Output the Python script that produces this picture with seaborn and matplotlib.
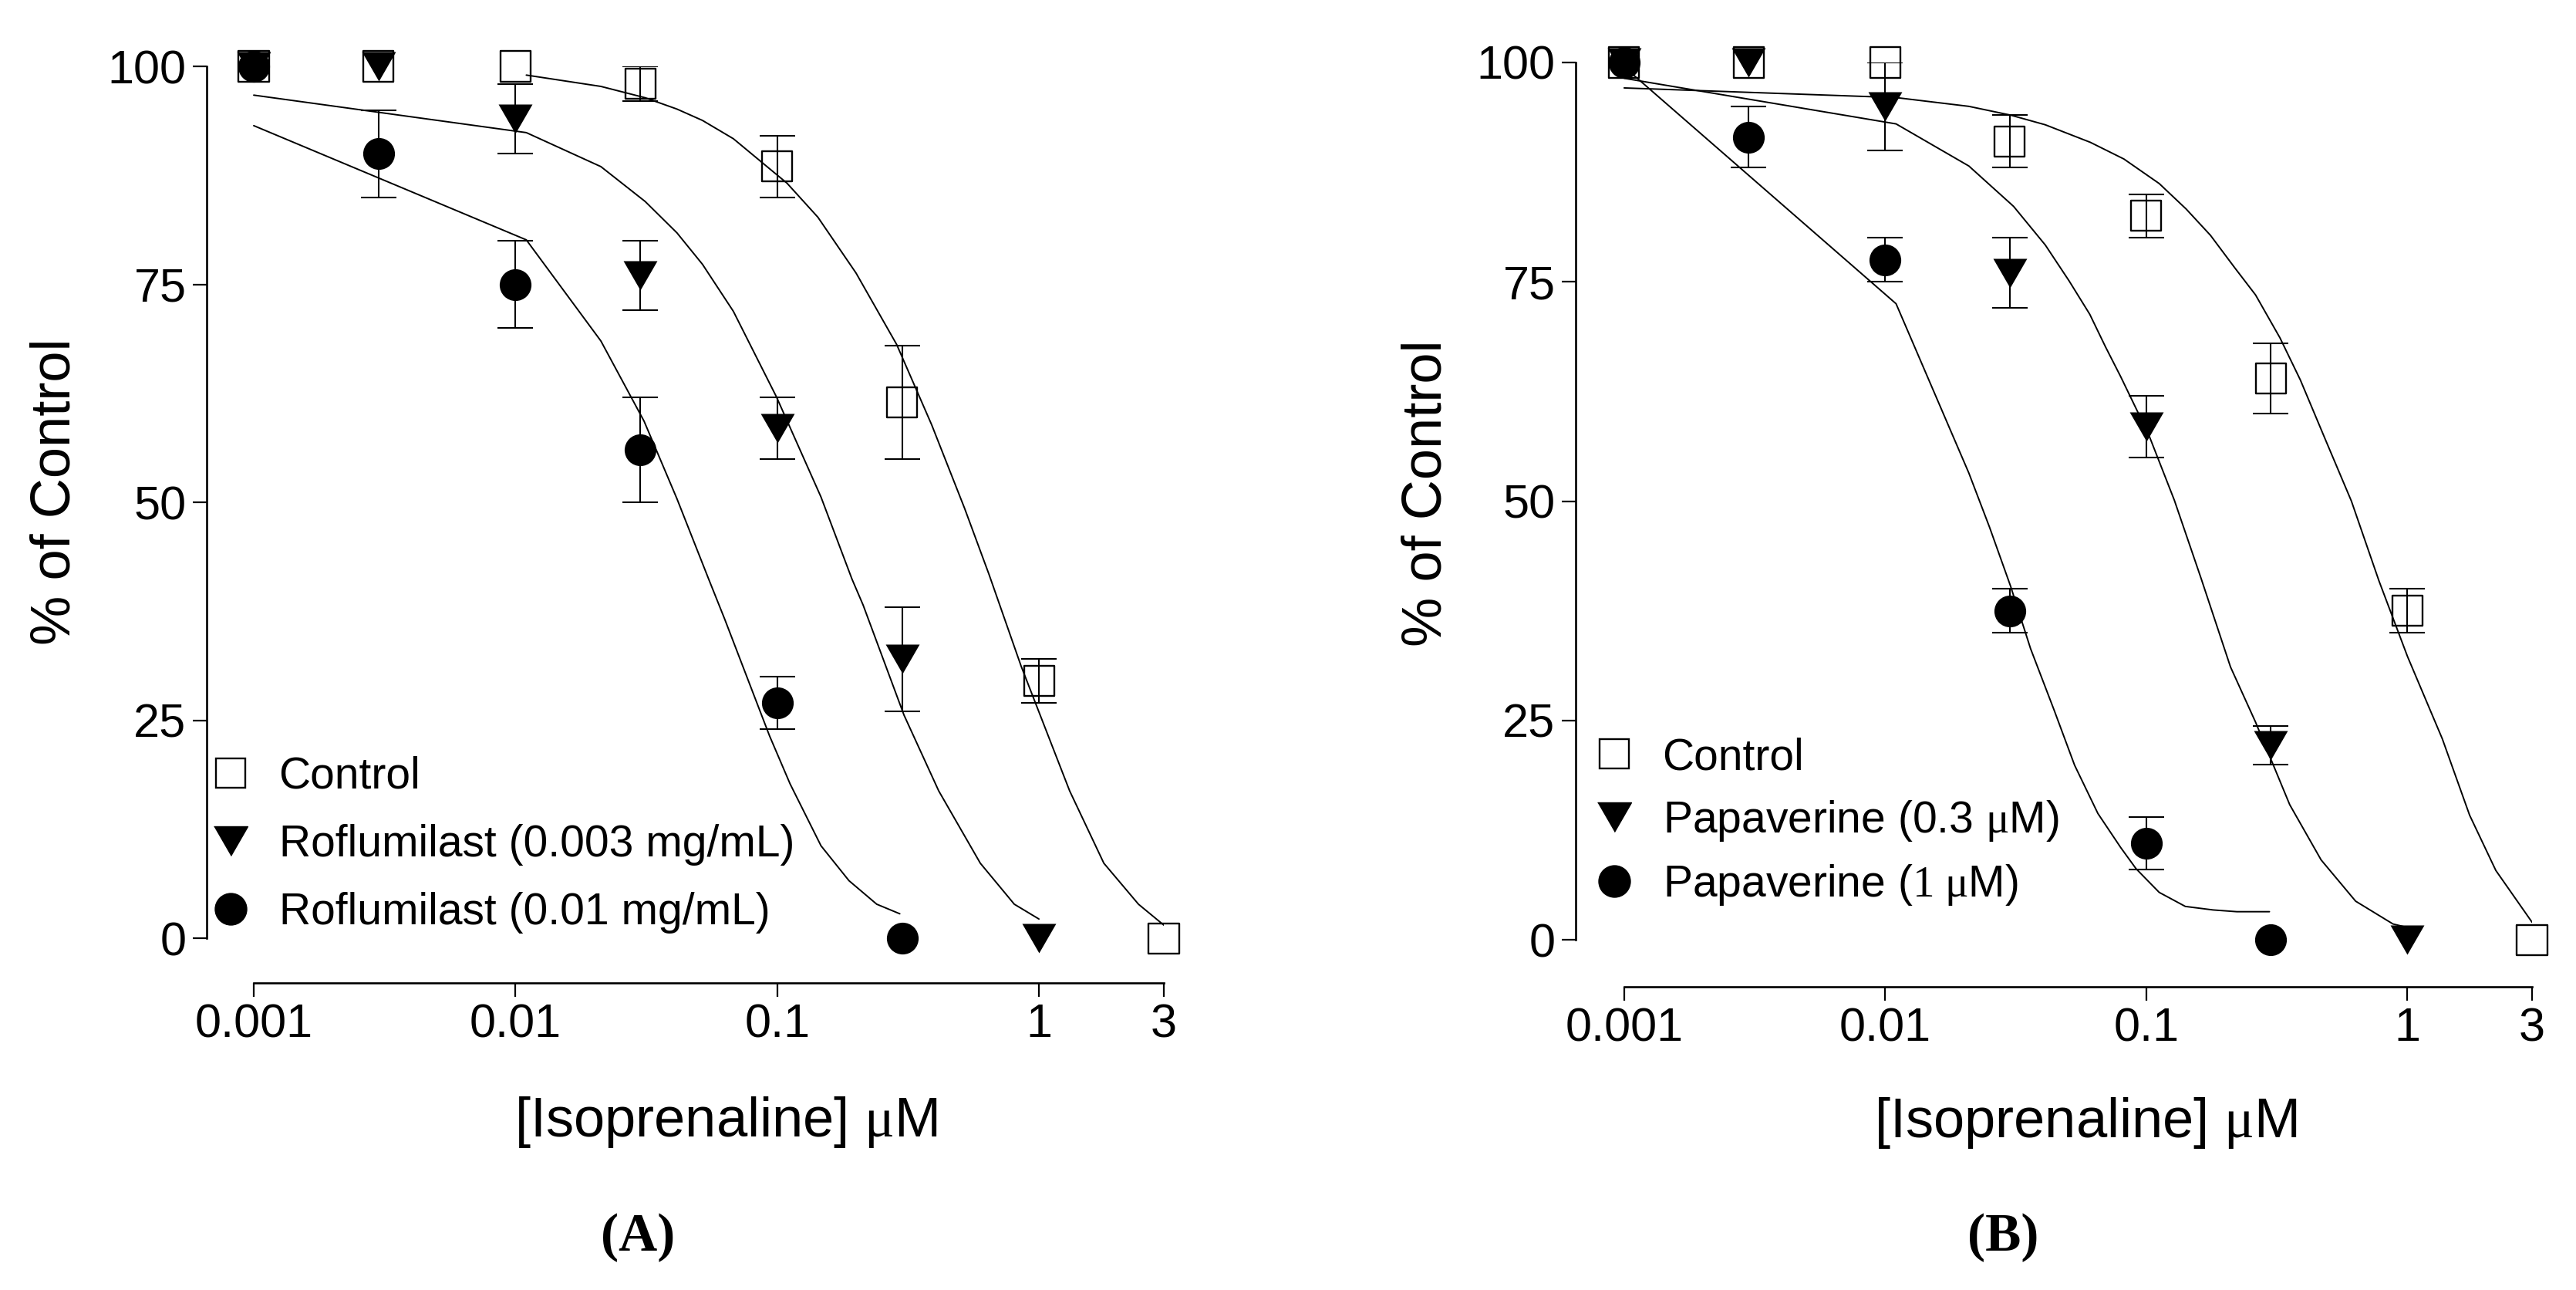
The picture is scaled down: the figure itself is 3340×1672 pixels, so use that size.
import pandas as pd
import seaborn as sns
import matplotlib.pyplot as plt
from matplotlib.lines import Line2D
from matplotlib.ticker import NullLocator

sns.set_theme(style="ticks")
plt.rcParams["font.family"] = ["Liberation Sans", "DejaVu Sans"]
plt.rcParams.update({
    "mathtext.fontset": "custom",
    "mathtext.rm": "Liberation Serif",
    "mathtext.it": "Liberation Serif:italic",
    "mathtext.bf": "Liberation Serif:bold",
    "text.color": "black",
    "axes.labelcolor": "black",
    "xtick.color": "black",
    "ytick.color": "black",
    "axes.edgecolor": "black",
})

# isoprenaline concentrations (uM)
conc = [0.001, 0.003, 0.01, 0.03, 0.1, 0.3, 1, 3]

# panel A: mean % of control and SEM
a_ctrl = [100, 100, 100, 98, 88.5, 61.5, 29.5, 0]
a_ctrl_err = [0, 0, 0, 2, 3.5, 6.5, 2.5, 0]
a_rof3 = [100, 100, 94, 76, 58.5, 32, 0]
a_rof3_err = [0, 0, 4, 4, 3.5, 6, 0]
a_rof10 = [100, 90, 75, 56, 27, 0]
a_rof10_err = [0, 5, 5, 6, 3, 0]

# panel B
b_ctrl = [100, 100, 100, 91, 82.5, 64, 37.5, 0]
b_ctrl_err = [0, 0, 0, 3, 2.5, 4, 2.5, 0]
b_pap03 = [100, 100, 95, 76, 58.5, 22.2, 0]
b_pap03_err = [0, 0, 5, 4, 3.5, 2.2, 0]
b_pap1 = [100, 91.5, 77.5, 37.5, 11, 0]
b_pap1_err = [0, 3.5, 2.5, 2.5, 3, 0]

# fitted curves
a_ctrl_fit_x = [0.011, 0.0212, 0.0313, 0.0414, 0.0518, 0.068, 0.109, 0.143, 0.2, 0.286,
                0.389, 0.52, 0.645, 0.855, 1.31, 1.77, 2.4, 3.0]
a_ctrl_fit_y = [99.0, 97.7, 96.4, 95.1, 93.8, 91.7, 86.6, 82.7, 76.3, 68.1,
                58.9, 49.3, 41.7, 31.2, 16.9, 8.6, 3.9, 1.5]
a_rof3_fit_x = [0.001, 0.011, 0.0212, 0.0313, 0.0414, 0.0518, 0.068, 0.0993, 0.147, 0.193,
                0.213, 0.305, 0.414, 0.597, 0.805, 1.0]
a_rof3_fit_y = [96.7, 92.4, 88.5, 84.5, 80.9, 77.3, 71.9, 62.1, 50.6, 41.2,
                38.2, 25.6, 16.9, 8.6, 3.9, 2.2]
a_rof10_fit_x = [0.001, 0.011, 0.0212, 0.031, 0.0414, 0.0547, 0.063, 0.0935, 0.112, 0.147,
                 0.188, 0.24, 0.294]
a_rof10_fit_y = [93.2, 80.1, 68.5, 59.3, 50.4, 41.2, 36.6, 23.2, 17.7, 10.6,
                 6.6, 3.9, 2.8]

b_ctrl_fit_x = [0.001, 0.011, 0.0209, 0.0302, 0.041, 0.061, 0.082, 0.112, 0.142, 0.176,
                0.218, 0.262, 0.325, 0.389, 0.482, 0.61, 0.778, 1.0, 1.36, 1.73, 2.18, 3.0]
b_ctrl_fit_y = [97.1, 96.0, 95.0, 94.0, 92.9, 90.9, 89.0, 86.2, 83.3, 80.3,
                76.6, 73.5, 68.6, 63.8, 57.2, 50.0, 40.9, 32.3, 22.9, 14.2, 7.9, 2.0]
b_pap03_fit_x = [0.001, 0.011, 0.0209, 0.031, 0.041, 0.0506, 0.0607, 0.0697, 0.0797, 0.102,
                 0.128, 0.162, 0.21, 0.262, 0.354, 0.467, 0.633, 0.88, 1.0]
b_pap03_fit_y = [98.2, 93.0, 88.2, 83.6, 79.2, 75.1, 71.3, 67.6, 64.2, 57.6,
                 50.1, 41.2, 31.1, 24.8, 15.4, 9.1, 4.4, 1.8, 1.4]
b_pap1_fit_x = [0.001, 0.011, 0.0209, 0.0251, 0.0302, 0.036, 0.0443, 0.0531, 0.0652, 0.0798,
                0.0913, 0.112, 0.141, 0.18, 0.222, 0.296]
b_pap1_fit_y = [99.5, 72.5, 53.2, 47.0, 40.3, 33.2, 26.2, 19.9, 14.4, 10.5,
                8.1, 5.4, 3.8, 3.4, 3.2, 3.2]

TRI = [(-1, 0.866), (1, 0.866), (0, -0.866)]
styles = [
    dict(marker="s", s=790, facecolor="none", edgecolor="black", linewidth=1.7),
    dict(marker=TRI, s=1000, facecolor="black", edgecolor="black", linewidth=0),
    dict(marker="o", s=880, facecolor="black", edgecolor="black", linewidth=0),
]


def draw_panel(ax, groups, fits, labels, xleft, ybottom, leg_anchor, leg_spacing,
               xlab_pos, ylab_pos):
    ax.set_xscale("log")
    for fx, fy in fits:
        sns.lineplot(x=fx, y=fy, ax=ax, color="black", linewidth=1.4,
                     estimator=None, sort=False, zorder=2)
    for (vals, errs), st in zip(groups, styles):
        df = pd.DataFrame({"x": conc[:len(vals)], "y": vals, "e": errs})
        eb = df[df.e > 0]
        ax.errorbar(eb.x, eb.y, yerr=eb.e, fmt="none", ecolor="black",
                    elinewidth=1.5, capsize=16.4, capthick=1.5, zorder=2.5)
        sns.scatterplot(data=df, x="x", y="y", ax=ax, zorder=3, clip_on=False,
                        legend=False, **st)

    ax.set_xlim(xleft, 3)
    ax.set_ylim(ybottom, 100)
    ax.set_xticks([0.001, 0.01, 0.1, 1, 3])
    ax.set_xticklabels(["0.001", "0.01", "0.1", "1", "3"])
    ax.xaxis.set_minor_locator(NullLocator())
    ax.set_yticks([0, 25, 50, 75, 100])
    ax.set_yticklabels(["0", "25", "50", "75", "100"])
    sns.despine(ax=ax)
    ax.spines["left"].set_bounds(0, 100)
    ax.spines["bottom"].set_bounds(0.001, 3)
    for sp in ("left", "bottom"):
        ax.spines[sp].set_linewidth(1.9)
    ax.tick_params(length=13, width=1.6, labelsize=44, pad=6)

    ax.set_xlabel(r"[Isoprenaline] $\mathrm{\mu}$M", fontsize=52)
    ax.xaxis.set_label_coords(*xlab_pos)
    ax.xaxis.label.set_va("center")
    ax.set_ylabel("% of Control", fontsize=52)
    ax.yaxis.set_label_coords(*ylab_pos)
    ax.yaxis.label.set_va("center")

    handles = [
        Line2D([], [], linestyle="none", marker="s", markersize=28, markerfacecolor="none",
               markeredgecolor="black", markeredgewidth=1.7),
        Line2D([], [], linestyle="none", marker=TRI, markersize=31.6, color="black"),
        Line2D([], [], linestyle="none", marker="o", markersize=29.5, color="black"),
    ]
    ax.legend(handles, labels, loc="center left", bbox_to_anchor=leg_anchor, frameon=False,
              fontsize=41, borderpad=0, borderaxespad=0, handlelength=1.0,
              handletextpad=0.6, labelspacing=leg_spacing)


fig = plt.figure(figsize=(33.41, 16.72), dpi=100)
axA = fig.add_axes([0.08021, 0.23804, 0.37145, 0.71052])
axB = fig.add_axes([0.61149, 0.23505, 0.37115, 0.71651])

draw_panel(
    axA,
    [(a_ctrl, a_ctrl_err), (a_rof3, a_rof3_err), (a_rof10, a_rof10_err)],
    [(a_ctrl_fit_x, a_ctrl_fit_y), (a_rof3_fit_x, a_rof3_fit_y), (a_rof10_fit_x, a_rof10_fit_y)],
    ["Control", "Roflumilast (0.003 mg/mL)", "Roflumilast (0.01 mg/mL)"],
    6.61e-4, -5.13, (0.002, 0.151), 0.6, (0.543, -0.152), (-0.158, 0.536),
)
draw_panel(
    axB,
    [(b_ctrl, b_ctrl_err), (b_pap03, b_pap03_err), (b_pap1, b_pap1_err)],
    [(b_ctrl_fit_x, b_ctrl_fit_y), (b_pap03_fit_x, b_pap03_fit_y), (b_pap1_fit_x, b_pap1_fit_y)],
    ["Control", r"Papaverine (0.3 $\mathrm{\mu}$M)", r"Papaverine ($\mathrm{1\ \mu}$M)"],
    6.52e-4, -5.36, (0.0173, 0.178), 0.45, (0.533, -0.147), (-0.156, 0.534),
)

fig.text(0.2475, 0.0407, "(A)", ha="center", va="center", fontsize=50,
         fontweight="bold", family="Liberation Serif")
fig.text(0.7775, 0.0407, "(B)", ha="center", va="center", fontsize=50,
         fontweight="bold", family="Liberation Serif")

fig.savefig("out.png", dpi=100)
